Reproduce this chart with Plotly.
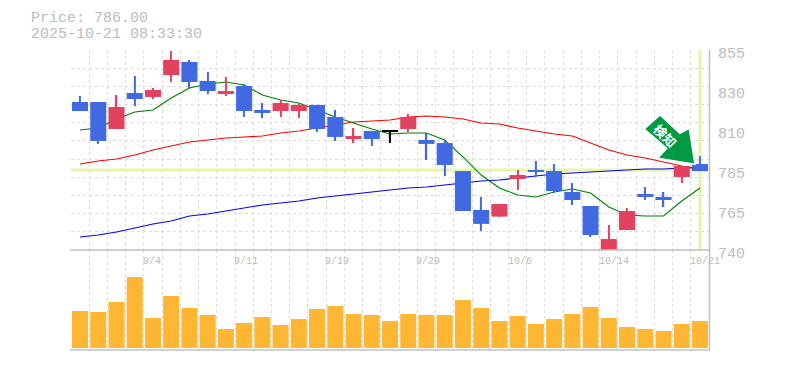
import plotly.graph_objects as go

W, H = 785, 370
PAGE_INSET = 8  # default page margin of the written html
price_label = "Price: 786.00"
time_label = "2025-10-21 08:33:30"
signal_label = "<b>検知</b>"
last_price = 786.0

date_labels = ["9/4", "9/11", "9/19", "9/29", "10/6", "10/14", "10/21"]
date_idx = [4, 9, 14, 19, 24, 29, 34]

opens = [825.1, 825.1, 822.2, 830.3, 828.0, 840.6, 848.1, 837.2, 829.7, 834.3, 820.5, 819.9, 819.9, 823.4, 816.5, 803.8, 808.4, 808.6, 809.6, 803.25, 801.5, 785.4, 763.0, 759.2, 780.8, 786.0, 785.4, 773.35, 765.3, 740.0, 751.5, 772.2, 770.5, 782.0, 789.45]
closes = [819.9, 802.7, 809.6, 826.8, 832.0, 849.25, 836.6, 831.4, 831.4, 819.9, 818.8, 824.5, 823.4, 809.6, 805.0, 805.55, 803.8, 808.0, 816.5, 801.0, 788.9, 762.4, 755.0, 766.45, 783.1, 784.85, 773.9, 768.75, 748.6, 746.3, 762.4, 770.5, 768.75, 788.3, 785.4]
highs = [828.55, 825.1, 829.1, 840.05, 833.15, 854.4, 849.25, 842.35, 839.5, 835.45, 824.5, 826.25, 824.5, 823.4, 820.5, 810.15, 808.4, 809.0, 818.2, 807.3, 803.25, 785.4, 770.5, 766.45, 786.0, 791.2, 789.45, 778.5, 765.3, 754.4, 764.15, 776.2, 773.35, 788.3, 794.0]
lows = [819.9, 801.0, 809.6, 822.8, 826.8, 836.6, 833.15, 829.7, 828.55, 816.5, 815.9, 816.5, 815.9, 807.85, 802.7, 801.5, 799.8, 801.5, 807.85, 791.75, 782.55, 762.4, 750.9, 759.2, 774.5, 782.0, 772.8, 765.9, 747.5, 740.0, 751.5, 768.75, 764.7, 778.5, 785.4]
candle_kind = ["d", "d", "u", "d", "u", "u", "d", "d", "u", "d", "d", "u", "u", "d", "d", "u", "d", "n", "u", "d", "d", "d", "d", "u", "u", "d", "d", "d", "d", "u", "u", "d", "d", "u", "d"]

ma_short = [809, 810.15, 815.3, 819.35, 820.5, 827.4, 833.15, 835.45, 836.6, 834.9, 829.1, 826.25, 824.5, 820.5, 816.5, 813.05, 809.6, 806.7, 807.3, 807.3, 803.25, 793.5, 783.1, 775.65, 771.65, 770.5, 773.35, 775.1, 772.8, 764.7, 760.1, 759.55, 759.55, 768.2, 775.65]
ma_mid = [789.45, 791.2, 792.35, 794.65, 797.5, 799.8, 802.1, 803.25, 804.4, 805, 805.55, 807.3, 808.4, 810.15, 811.9, 813.6, 814.2, 814.75, 816.5, 817.05, 816.5, 815.3, 813.05, 812.45, 810.15, 808.4, 806.7, 805.55, 801.5, 797.5, 794.65, 792.9, 790.6, 788.3, 786]
ma_long = [747.5, 748.6, 750.35, 752.65, 754.95, 756.7, 759.55, 760.7, 762.4, 764.15, 765.9, 767, 768.2, 769.9, 771.05, 772.2, 773.35, 774.5, 775.65, 776.2, 777.4, 778.5, 779.7, 780.25, 781.4, 782.55, 783.7, 784.25, 784.85, 785.4, 786, 786.6, 786.6, 787.15, 787.7]
volumes = [37, 36, 46, 71, 30, 52, 40, 33, 19, 25, 31, 23, 29, 39, 42, 34, 33, 27, 34, 33, 33, 48, 40, 27, 32, 24, 29, 34, 41, 30, 21, 19, 17, 24, 27]

y_labels = ["855", "830", "810", "785", "765", "740"]
y_label_vals = [855, 832, 809, 786, 763, 740]
grid_steps = 11
y_top, y_bot = 855.0, 740.0

n = len(opens)
idx = list(range(n))
x_range = [-0.5, n - 0.5]
grid_x = [i - 0.5 for i in range(n + 1)]
grid_y = [y_bot + (y_top - y_bot) * k / grid_steps for k in range(grid_steps + 1)]

BLUE, RED, BLACK = "#4169e1", "#e2415f", "#000000"
GRID = "#dddddd"
AXIS = "#c0c0c0"
TEXT = "#bdbdbd"
HILITE = "#e6f5aa"
VOL = "#ffb733"
DASH = "3px,3px"
kind_color = {"u": RED, "d": BLUE, "n": BLACK}
colors = [kind_color[k] for k in candle_kind]

fig = go.Figure()
fig.add_trace(go.Scatter(x=x_range, y=[last_price, last_price], mode="lines",
                         line=dict(color=HILITE, width=3), hoverinfo="skip"))
fig.add_trace(go.Scatter(x=[n - 1, n - 1], y=[y_bot + 0.6, y_top], mode="lines",
                         line=dict(color=HILITE, width=3), hoverinfo="skip"))
for vals, col in ((ma_long, "#0000ff"), (ma_mid, "#ff0000"), (ma_short, "#008000")):
    fig.add_trace(go.Scatter(x=idx, y=vals, mode="lines",
                             line=dict(color=col, width=1.1), hoverinfo="skip"))

fig.add_trace(go.Bar(x=idx, base=lows, y=[h - l for h, l in zip(highs, lows)], width=0.075,
                     marker=dict(color=colors, line=dict(width=0)), yaxis="y2"))
body_low = [min(o, c) for o, c in zip(opens, closes)]
body_h = [abs(o - c) for o, c in zip(opens, closes)]
fig.add_trace(go.Bar(x=idx, base=body_low, y=body_h, width=0.88,
                     marker=dict(color=colors, line=dict(width=0)), yaxis="y2"))
fig.add_trace(go.Bar(x=idx, y=volumes, width=0.88, xaxis="x2", yaxis="y3",
                     marker=dict(color=VOL, line=dict(width=0))))

FW, FH = W - PAGE_INSET, H - PAGE_INSET
px = lambda v: (v - PAGE_INSET) / FW
py = lambda v: 1 - (v - PAGE_INSET) / FH
dom_x = [px(70.9), px(709.1)]

common_x = dict(range=x_range, domain=dom_x, tickmode="array", showline=False, zeroline=False,
                showgrid=True, gridcolor=GRID, griddash=DASH, gridwidth=1, ticks="", automargin=False)
arrow_pts = [(644.3, 129), (660, 115), (680, 133.3), (689.3, 128.3), (695, 164.3), (657.7, 158.3), (666.7, 148.3)]
arrow_path = "M " + " L ".join(f"{px(a)} {py(b)}" for a, b in arrow_pts) + " Z"
fig.update_layout(
    width=FW, height=FH, autosize=False, margin=dict(l=0, r=0, t=0, b=0),
    paper_bgcolor="white", plot_bgcolor="white", showlegend=False, barmode="overlay",
    font=dict(family="Liberation Mono", color=TEXT, size=15),
    xaxis=dict(common_x, tickvals=grid_x, showticklabels=False, anchor="y"),
    xaxis2=dict(common_x, tickvals=grid_x, showticklabels=False, anchor="y3"),
    yaxis=dict(range=[y_bot, y_top], domain=[py(250), py(50)], tickmode="array", tickvals=grid_y,
               showticklabels=False, showgrid=True, gridcolor=GRID, griddash=DASH, gridwidth=1,
               zeroline=False, showline=False, ticks="", automargin=False),
    yaxis2=dict(range=[y_bot, y_top], overlaying="y", side="right", tickmode="array",
                tickvals=y_label_vals, ticktext=y_labels, showgrid=False, zeroline=False,
                showline=False, ticks="", anchor="x", ticklabelstandoff=8, ticklabelshift=3,
                automargin=False, tickfont=dict(family="Liberation Mono", size=15, color=TEXT)),
    yaxis3=dict(range=[-2, 98], domain=[py(350), py(250)], showticklabels=False, showgrid=False,
                zeroline=False, showline=False, ticks="", anchor="x2", automargin=False),
    shapes=[
        dict(type="line", xref="paper", yref="paper", x0=px(70), x1=px(710), y0=py(250), y1=py(250),
             line=dict(color=AXIS, width=1.5), layer="above"),
        dict(type="line", xref="paper", yref="paper", x0=px(70), x1=px(710), y0=py(350), y1=py(350),
             line=dict(color=AXIS, width=1.5), layer="above"),
        dict(type="line", xref="paper", yref="paper", x0=px(709.5), x1=px(709.5), y0=py(50), y1=py(350),
             line=dict(color=AXIS, width=1.5), layer="above"),
        dict(type="path", xref="paper", yref="paper", layer="above", path=arrow_path,
             fillcolor="#009944", line=dict(color="white", width=1.5)),
        # invisible box centred on the arrow's shaft, carrying the rotated text
        dict(type="rect", xref="paper", yref="paper", layer="above",
             x0=px(654), x1=px(674), y0=py(127), y1=py(147),
             fillcolor="rgba(0,0,0,0)", line=dict(width=0),
             label=dict(text=signal_label, textangle=45, textposition="middle center",
                        font=dict(family="Noto Sans CJK JP", size=13, color="white"))),
    ],
    annotations=[
        dict(text=price_label, xref="paper", yref="paper", x=px(29), y=py(18), xanchor="left",
             yanchor="middle", showarrow=False, height=14, valign="middle",
             font=dict(family="Liberation Mono", size=15, color=TEXT)),
        dict(text=time_label, xref="paper", yref="paper", x=px(29), y=py(34), xanchor="left",
             yanchor="middle", showarrow=False, height=14, valign="middle",
             font=dict(family="Liberation Mono", size=15, color=TEXT)),
    ] + [
        dict(text=t, x=i - 0.5, xref="x", y=py(261), yref="paper", showarrow=False, yanchor="middle",
             xanchor="left", xshift=-2, borderpad=0,
             font=dict(family="Liberation Mono", size=10, color=TEXT))
        for t, i in zip(date_labels, date_idx)
    ],
)
fig.write_html("out.html")
